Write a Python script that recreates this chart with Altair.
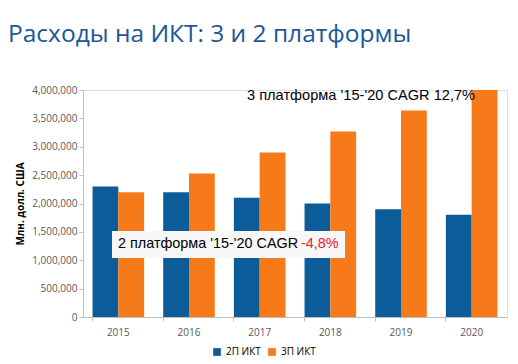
import altair as alt
import pandas as pd

years = ["2015", "2016", "2017", "2018", "2019", "2020"]
series_names = ["2П ИКТ", "3П ИКТ"]
vals_2p = [2300000, 2200000, 2100000, 2000000, 1900000, 1800000]
vals_3p = [2200000, 2530000, 2900000, 3270000, 3640000, 4000000]
colors = ["#0B5C99", "#F77A1A"]
y_ticks = [0, 500000, 1000000, 1500000, 2000000, 2500000, 3000000, 3500000, 4000000]

rows = []
for y, a, b in zip(years, vals_2p, vals_3p):
    rows.append({"year": y, "series": series_names[0], "value": a})
    rows.append({"year": y, "series": series_names[1], "value": b})
df = pd.DataFrame(rows)

W, H = 424, 227
font = "Liberation Sans"

bars = alt.Chart(df).mark_bar().encode(
    x=alt.X("year:N", sort=years,
            scale=alt.Scale(paddingInner=0.27, paddingOuter=0.135),
            axis=alt.Axis(title=None, labelAngle=0, labelColor="#595959", labelFontSize=10,
                          labelFont="Open Sans", domainColor="#BFBFBF", tickColor="#BFBFBF",
                          bandPosition=0, tickSize=4, labelPadding=6)),
    xOffset=alt.XOffset("series:N", sort=series_names),
    y=alt.Y("value:Q", scale=alt.Scale(domain=[0, 4000000]),
            axis=alt.Axis(title="Млн. долл. США", format=",.0f", values=y_ticks, labelOverlap=False,
                          grid=False, labelColor="#595959", labelFontSize=10, labelFont="Open Sans",
                          domainColor="#BFBFBF", tickColor="#BFBFBF", tickSize=4,
                          titleFont="Open Sans", titleFontSize=10, titleFontWeight="bold",
                          titleColor="#000000", titlePadding=6)),
    color=alt.Color("series:N", sort=series_names,
                    scale=alt.Scale(domain=series_names, range=colors),
                    legend=alt.Legend(title=None, orient="none", direction="horizontal",
                                      legendX=129, legendY=257, symbolType="square",
                                      symbolSize=60, labelFont="Open Sans", labelFontSize=10,
                                      labelColor="#000000", columnPadding=6, symbolStrokeWidth=0)),
)

title_df = pd.DataFrame({"t": ["Расходы на ИКТ: 3 и 2 платформы"]})
title = alt.Chart(title_df).mark_text(align="left", baseline="middle", font="Open Sans",
                                      fontSize=24.5, color="#1B5797").encode(
    x=alt.value(-75), y=alt.value(-55), text="t:N")

ann3_df = pd.DataFrame({"t": ["3 платформа '15-'20 CAGR 12,7%"]})
ann3 = alt.Chart(ann3_df).mark_text(align="left", baseline="middle", font=font,
                                    fontSize=14.6, color="#000000").encode(
    x=alt.value(164), y=alt.value(6), text="t:N")

box_df = pd.DataFrame({"k": [1]})
box = alt.Chart(box_df).mark_rect(color="#F7F7F7").encode(
    x=alt.value(29), x2=alt.value(262), y=alt.value(141), y2=alt.value(168))

ann2_df = pd.DataFrame({"t": ["2 платформа '15-'20 CAGR"]})
ann2 = alt.Chart(ann2_df).mark_text(align="left", baseline="middle", font=font,
                                    fontSize=14.4, color="#000000").encode(
    x=alt.value(35), y=alt.value(154), text="t:N")
ann2r_df = pd.DataFrame({"t": ["-4,8%"]})
ann2r = alt.Chart(ann2r_df).mark_text(align="left", baseline="middle", font=font,
                                      fontSize=14.4, color="#E8202A").encode(
    x=alt.value(218), y=alt.value(154), text="t:N")

chart = alt.layer(bars, title, ann3, box, ann2, ann2r).properties(
    width=W, height=H,
    autosize=alt.AutoSizeParams(type="none"),
    padding={"left": 75, "top": 82, "right": 3, "bottom": 46},
).configure_view(stroke=None).configure(background="white")

chart.save("out.html", embed_options={"renderer": "svg", "actions": False})
